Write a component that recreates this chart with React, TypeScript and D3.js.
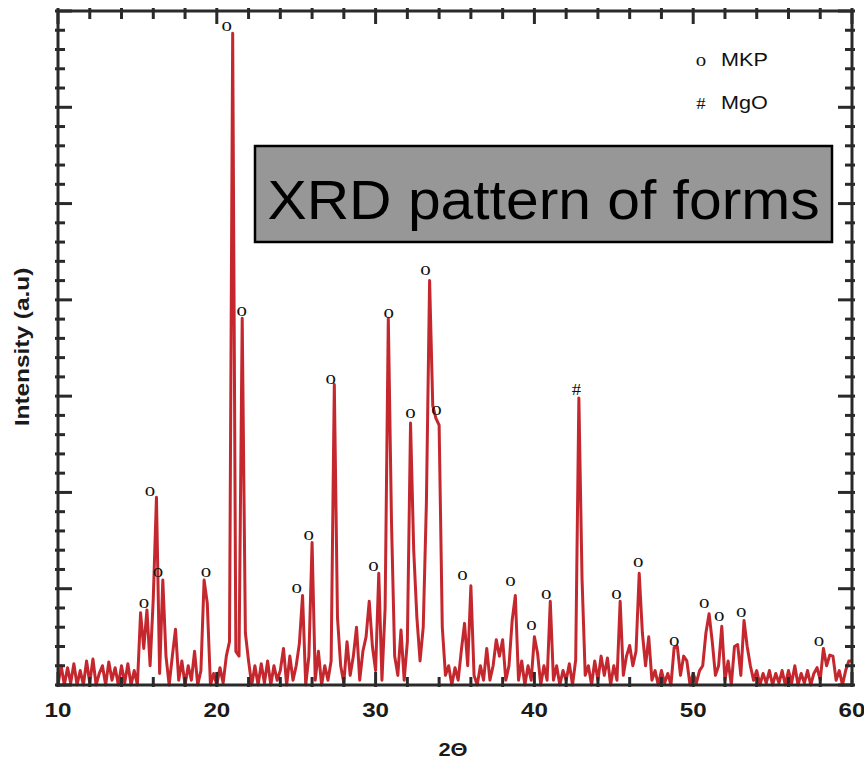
import React from "react";
import * as d3 from "d3";

// 2θ grid: 10.0 .. 60.0 step 0.2
const thetaStart = 10;
const thetaStep = 0.2;
const intensity: number[] = [
  // 10
  0.0, 0.2, 0.0, 0.18, 0.02,
  // 11
  0.22, 0.0, 0.15, 0.0, 0.25,
  // 12
  0.02, 0.27, 0.0, 0.12, 0.2,
  // 13
  0.0, 0.24, 0.05, 0.18, 0.0,
  // 14
  0.2, 0.02, 0.22, 0.0, 0.15,
  // 15
  0.0, 0.75, 0.38, 0.78, 0.2,
  // 16
  0.9, 1.95, 0.12, 1.09, 0.3,
  // 17
  0.0, 0.3, 0.58, 0.05, 0.25,
  // 18
  0.0, 0.2, 0.05, 0.35, 0.0,
  // 19
  0.15, 1.09, 0.85, 0.0, 0.12,
  // 20
  0.0, 0.18, 0.02, 0.3, 0.45,
  // 21
  6.77, 0.35, 0.3, 3.81, 0.54,
  // 22
  0.25, 0.0, 0.2, 0.0, 0.22,
  // 23
  0.02, 0.25, 0.0, 0.2, 0.05,
  // 24
  0.15, 0.38, 0.0, 0.3, 0.05,
  // 25
  0.2, 0.43, 0.93, 0.0, 0.3,
  // 26
  1.48, 0.05, 0.35, 0.0, 0.2,
  // 27
  0.05, 0.25, 3.12, 0.7, 0.2,
  // 28
  0.02, 0.45, 0.1, 0.3, 0.6,
  // 29
  0.05, 0.35, 0.5, 0.87, 0.4,
  // 30
  0.15, 1.16, 0.05, 0.8, 3.81,
  // 31
  1.7, 0.3, 0.1, 0.57, 0.05,
  // 32
  0.45, 2.72, 1.4, 0.7, 0.25,
  // 33
  0.6, 1.9, 4.2, 2.9, 2.77,
  // 34
  2.7, 0.6, 0.1, 0.2, 0.0,
  // 35
  0.18, 0.05, 0.36, 0.64, 0.2,
  // 36
  1.03, 0.1, 0.0, 0.2, 0.05,
  // 37
  0.38, 0.05, 0.2, 0.47, 0.3,
  // 38
  0.47, 0.05, 0.2, 0.67, 0.93,
  // 39
  0.05, 0.25, 0.0, 0.2, 0.05,
  // 40
  0.5, 0.33, 0.0, 0.2, 0.05,
  // 41
  0.87, 0.05, 0.2, 0.0, 0.15,
  // 42
  0.05, 0.22, 0.0, 0.26, 2.98,
  // 43
  1.1, 0.1, 0.2, 0.0, 0.25,
  // 44
  0.05, 0.3, 0.1, 0.28, 0.0,
  // 45
  0.2, 0.05, 0.87, 0.1, 0.3,
  // 46
  0.41, 0.2, 0.35, 1.16, 0.54,
  // 47
  0.2, 0.5, 0.05, 0.15, 0.0,
  // 48
  0.15, 0.02, 0.12, 0.0, 0.39,
  // 49
  0.4, 0.1, 0.3, 0.25, 0.0,
  // 50
  0.12, 0.02, 0.15, 0.2, 0.54,
  // 51
  0.74, 0.45, 0.1, 0.2, 0.61,
  // 52
  0.05, 0.25, 0.0, 0.4, 0.42,
  // 53
  0.1, 0.67, 0.4, 0.2, 0.05,
  // 54
  0.15, 0.0, 0.12, 0.02, 0.15,
  // 55
  0.0, 0.12, 0.02, 0.15, 0.0,
  // 56
  0.15, 0.02, 0.2, 0.0, 0.12,
  // 57
  0.02, 0.15, 0.0, 0.12, 0.18,
  // 58
  0.05, 0.38, 0.2, 0.31, 0.3,
  // 59
  0.05, 0.15, 0.0, 0.15, 0.25,
  // 60
  0.25,
];

// Peak annotations (label position in 2θ, label level in intensity units)
const annotTheta = [15.41, 15.79, 16.29, 19.31, 20.63, 21.57, 25.03, 25.79, 27.17, 29.87, 30.82, 32.2, 33.14, 33.84, 35.47, 38.49, 39.81, 40.75, 42.64, 45.16, 46.54, 48.8, 50.69, 51.64, 53.02, 57.92];
const annotLevel = [0.85, 2.01, 1.17, 1.17, 6.84, 3.88, 1.01, 1.56, 3.18, 1.24, 3.86, 2.82, 4.31, 2.86, 1.14, 1.08, 0.62, 0.94, 3.06, 0.94, 1.28, 0.46, 0.85, 0.72, 0.76, 0.46];
const annotSymbol = ["o", "o", "o", "o", "o", "o", "o", "o", "o", "o", "o", "o", "o", "o", "o", "o", "o", "o", "#", "o", "o", "o", "o", "o", "o", "o"];

const xMajorTicks = [10, 20, 30, 40, 50, 60];
const legendSymbols = ["o", "#"];
const legendLabels = ["MKP", "MgO"];
const titleText = "XRD pattern of forms";
const xLabel = "2Θ";
const yLabel = "Intensity (a.u)";

const W = 864;
const H = 767;

export default function App() {
  const left = 58, right = 852, top = 11, bottom = 685;
  const x = d3.scaleLinear().domain([10, 60]).range([left, right]);
  const y = d3.scaleLinear().domain([0, 7]).range([bottom, top]);

  const pts: [number, number][] = intensity.map((v, i) => [thetaStart + i * thetaStep, v]);
  const line = d3
    .line<[number, number]>()
    .x((d) => x(d[0]))
    .y((d) => y(d[1]));

  const xMinor = d3.range(10, 60.01, 2);
  const yMinor = d3.range(0, 7.001, 0.2);
  const axisColor = "#2a2a2a";
  const sans = "'Liberation Sans', Arial, Helvetica, sans-serif";
  const serif = "'Liberation Serif', 'Times New Roman', serif";

  const isMajorY = (v: number) => Math.abs(v - Math.round(v)) < 1e-6;
  const isMajorX = (v: number) => Math.abs(v / 10 - Math.round(v / 10)) < 1e-6;

  return (
    <svg
      width={W}
      height={H}
      style={{ position: "absolute", left: 0, top: 0, background: "#fff" }}
      fontFamily={sans}
    >
      {/* data line */}
      <path
        d={line(pts) || ""}
        fill="none"
        stroke="#c4282e"
        strokeWidth={3}
        strokeLinejoin="round"
      />

      {/* frame */}
      <rect x={left} y={top} width={right - left} height={bottom - top} fill="none" stroke={axisColor} strokeWidth={3} />

      {/* x ticks top & bottom */}
      {xMinor.map((v, i) => {
        const len = isMajorX(v) ? 13 : 8;
        return (
          <g key={"xt" + i} stroke={axisColor} strokeWidth={3}>
            <line x1={x(v)} x2={x(v)} y1={top - 3} y2={top + len} />
            <line x1={x(v)} x2={x(v)} y1={bottom + 2} y2={bottom - len} />
          </g>
        );
      })}

      {/* y ticks left & right */}
      {yMinor.map((v, i) => {
        const len = isMajorY(v) ? 14 : 7;
        return (
          <g key={"yt" + i} stroke={axisColor} strokeWidth={3}>
            <line x1={left - 3} x2={left + len} y1={y(v)} y2={y(v)} />
            <line x1={right + 3} x2={right - len} y1={y(v)} y2={y(v)} />
          </g>
        );
      })}

      {/* x tick labels */}
      {xMajorTicks.map((v) => (
        <text
          key={"xl" + v}
          transform={`translate(${x(v)},717) scale(1.15,1)`}
          textAnchor="middle"
          fontSize={21}
          fontWeight="bold"
          fill="#1a1a1a"
        >
          {v}
        </text>
      ))}

      {/* axis labels */}
      <text
        transform="translate(453,756) scale(1.15,1)"
        textAnchor="middle"
        fontSize={19}
        fontWeight="bold"
        fill="#1a1a1a"
      >
        {xLabel}
      </text>
      <text
        transform="translate(29,347) rotate(-90) scale(1.22,1)"
        textAnchor="middle"
        fontSize={20}
        fontWeight="bold"
        fill="#1a1a1a"
      >
        {yLabel}
      </text>

      {/* peak annotations */}
      {annotTheta.map((t, i) => (
        <text
          key={"an" + i}
          transform={`translate(${x(t)},${y(annotLevel[i]) + 5}) scale(1.1,1)`}
          textAnchor="middle"
          fontSize={annotSymbol[i] === "#" ? 17 : 19}
          fontFamily={serif}
          fill="#111"
        >
          {annotSymbol[i]}
        </text>
      ))}

      {/* legend */}
      {legendSymbols.map((s, i) => (
        <g key={"lg" + i}>
          <text
            transform={`translate(701,${66 + i * 43}) scale(1.1,1)`}
            textAnchor="middle"
            fontSize={s === "#" ? 17 : 19}
            fontFamily={serif}
            fill="#111"
          >
            {s}
          </text>
          <text transform={`translate(721,${66 + i * 43}) scale(1.2,1)`} fontSize={18} fill="#111">
            {legendLabels[i]}
          </text>
        </g>
      ))}

      {/* title box */}
      <rect x={255} y={146} width={577} height={96} fill="#979797" stroke="#000" strokeWidth={2.5} />
      <text transform="translate(543.5,219) scale(1.05,1)" textAnchor="middle" fontSize={56} fill="#000">
        {titleText}
      </text>
    </svg>
  );
}
